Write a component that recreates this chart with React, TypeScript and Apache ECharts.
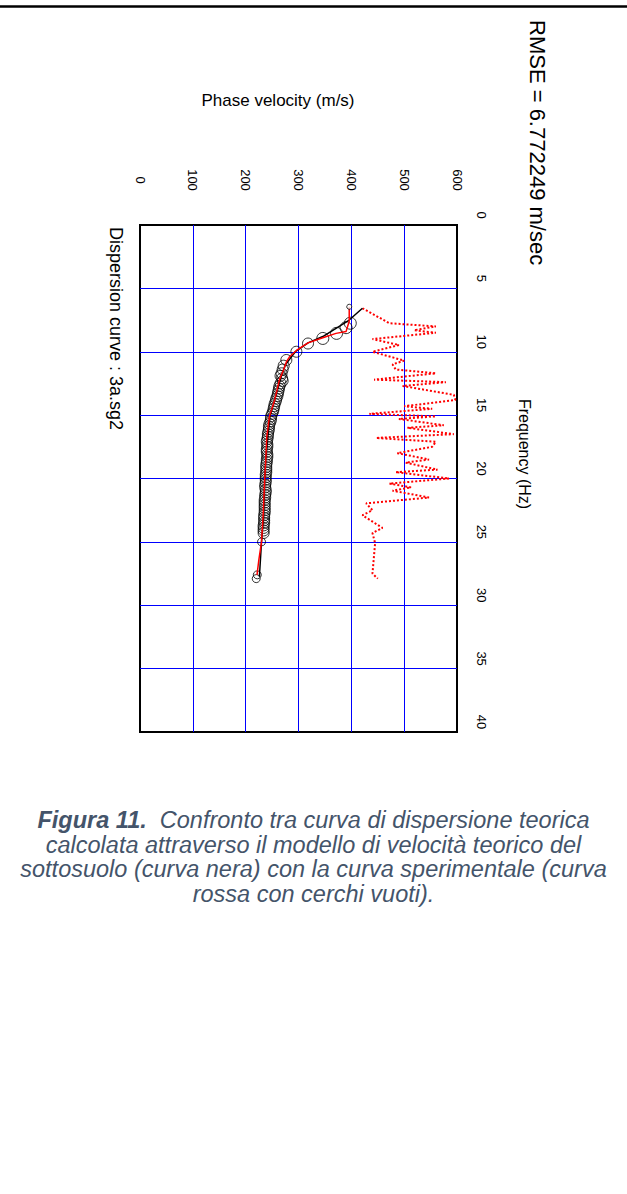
import React, { useEffect, useRef } from "react";
import * as echarts from "echarts";

// Theoretical dispersion curve (frequency Hz, phase velocity m/s)
const theoFreq = [6.57, 7.5, 8.15, 8.8, 9.3, 10.0, 10.6, 11.05, 12.0, 13.8, 15.1, 16.7, 18.5, 20.1, 23.0, 25.0, 27.75];
const theoVel = [421, 396, 371, 346, 318, 294, 283, 275, 267, 255, 246, 242, 238, 236, 234, 230, 226];

// Experimental curve (red solid line)
const expFreq = [6.45, 7.6, 8.4, 8.55, 8.9, 9.3, 9.9, 10.4, 10.8, 11.4, 12.2, 13.8, 15.1, 16.7, 18.5, 20.1, 23.0, 25.0, 26.4, 27.6];
const expVel = [396, 396, 390, 371, 346, 318, 296, 283, 277, 272, 264, 255, 245, 240, 238, 236, 233, 230, 225, 221.5];

// Experimental picks (open circles)
const pickFreq = [
  7.75, 8.1, 8.55, 8.95, 9.35, 10.0, 10.65, 11.1, 11.4, 11.7, 11.9, 12.1, 12.3, 12.5, 12.7, 12.9,
  13.1, 13.3, 13.5, 13.7, 13.9, 14.1, 14.3, 14.5, 14.7, 14.9, 15.1, 15.3, 15.5, 15.7, 15.9, 16.1,
  16.3, 16.5, 16.7, 16.9, 17.1, 17.3, 17.5, 17.7, 17.9, 18.1, 18.3, 18.5, 18.7, 18.9, 19.1, 19.3,
  19.5, 19.7, 19.9, 20.1, 20.3, 20.5, 20.7, 20.9, 21.1, 21.3, 21.5, 21.7, 21.9, 22.1, 22.3, 22.5,
  22.7, 22.9, 23.1, 23.3, 23.5, 23.7, 23.9, 24.1, 24.3, 25.0, 27.6, 27.9,
];
const pickVel = [
  398, 390, 372, 346, 318, 296, 277, 272, 270, 268, 266, 269, 270, 266, 264, 263,
  262, 261, 260, 258, 257, 255, 254, 253, 252, 250, 248, 248, 247, 245, 244, 244,
  243, 242, 242, 241, 240, 241, 241, 240, 240, 241, 241, 240, 240, 239, 239, 239,
  239, 238, 238, 238, 238, 237, 237, 238, 238, 237, 237, 236, 236, 236, 236, 236,
  236, 235, 235, 235, 235, 234, 234, 234, 234, 230, 222, 220,
];

// Red dotted curve
const dotFreq = [6.57, 7.75, 8.0, 8.3, 8.5, 9.0, 9.47, 10.0, 10.7, 11.0, 11.4, 11.7, 12.2, 12.4, 12.7, 13.4, 13.8, 14.3, 14.5, 14.9, 15.1, 15.3, 15.8, 16.0, 16.5, 16.8, 17.1, 17.5, 18.0, 18.5, 18.75, 19.3, 19.5, 20.0, 20.4, 20.7, 20.96, 21.5, 21.96, 22.5, 22.9, 23.9, 24.3, 25.1, 27.5, 27.9];
const dotVel = [421, 472, 560, 519, 560, 440, 490, 440, 500, 478, 484, 560, 443, 579, 497, 594, 597, 500, 553, 434, 560, 490, 575, 506, 594, 447, 560, 553, 487, 547, 503, 563, 484, 585, 472, 513, 478, 547, 428, 440, 421, 459, 440, 445, 440, 450];

// Axis tick definitions
const velMin = 0;
const velMax = 600;
const velStep = 100;
const freqMin = 0;
const freqMax = 40;
const freqStep = 5;

const captionLines = [
  "{b|Figura 11.}  Confronto tra curva di dispersione teorica",
  "calcolata attraverso il modello di velocità teorico del",
  "sottosuolo (curva nera) con la curva sperimentale (curva",
  "rossa con cerchi vuoti).",
];

const pair = (fs: number[], vs: number[]) => fs.map((f, i) => [vs[i], f]);

const FONT = "'Liberation Sans', Arial, sans-serif";

export default function App() {
  const ref = useRef<HTMLDivElement>(null);

  useEffect(() => {
    if (!ref.current) return;
    const chart = echarts.init(ref.current, undefined, { renderer: "svg" });

    const captionY = [820, 845, 869, 894];

    chart.setOption({
      animation: false,
      backgroundColor: "#ffffff",
      textStyle: { fontFamily: FONT },
      grid: {
        left: 140,
        top: 225,
        width: 317,
        height: 507,
        show: true,
        borderColor: "#000",
        borderWidth: 2,
        backgroundColor: "transparent",
      },
      xAxis: {
        type: "value",
        position: "top",
        min: velMin,
        max: velMax,
        interval: velStep,
        axisLine: { show: false },
        axisTick: { show: false },
        splitLine: {
          show: true,
          showMinLine: false,
          showMaxLine: false,
          lineStyle: { color: "#0000ff", width: 1 },
        },
        axisLabel: {
          rotate: -90,
          align: "center",
          verticalAlign: "middle",
          margin: 45,
          fontSize: 13,
          color: "#000",
          fontFamily: FONT,
        },
      },
      yAxis: {
        type: "value",
        position: "right",
        inverse: true,
        min: freqMin,
        max: freqMax,
        interval: freqStep,
        axisLine: { show: false },
        axisTick: { show: false },
        splitLine: {
          show: true,
          showMinLine: false,
          showMaxLine: false,
          lineStyle: { color: "#0000ff", width: 1 },
        },
        axisLabel: {
          rotate: -90,
          align: "center",
          verticalAlign: "middle",
          margin: 24,
          padding: [0, 20, 0, 0],
          fontSize: 13,
          color: "#000",
          fontFamily: FONT,
        },
      },
      series: [
        {
          type: "line",
          data: pair(dotFreq, dotVel),
          symbol: "none",
          z: 2,
          lineStyle: { color: "#ff0000", width: 2, type: [2, 2] },
        },
        {
          type: "scatter",
          data: pair(pickFreq, pickVel),
          symbol: "circle",
          symbolSize: (val: number[]) => (val[1] < 9.2 ? 12 : val[1] > 24.5 ? 8 : 11),
          z: 3,
          itemStyle: { color: "transparent", borderColor: "#000", borderWidth: 1 },
        },
        {
          type: "line",
          data: pair(theoFreq, theoVel),
          symbol: "none",
          z: 4,
          lineStyle: { color: "#000", width: 1.5 },
        },
        {
          type: "line",
          data: pair(expFreq, expVel),
          symbol: "none",
          z: 5,
          lineStyle: { color: "#ff0000", width: 1.5 },
        },
        {
          type: "scatter",
          data: [[expVel[0], expFreq[0]]],
          symbol: "circle",
          symbolSize: 5,
          z: 6,
          itemStyle: { color: "#fff", borderColor: "#000", borderWidth: 1 },
        },
      ],
      graphic: [
        {
          type: "line",
          shape: { x1: 0, y1: 6.5, x2: 627, y2: 6.5 },
          style: { stroke: "#000", lineWidth: 2.5 },
        },
        {
          type: "text",
          x: 537,
          y: 20,
          rotation: -Math.PI / 2,
          style: {
            text: "RMSE = 6.772249 m/sec",
            fontSize: 22,
            fontFamily: FONT,
            fill: "#000",
            align: "left",
            verticalAlign: "middle",
          },
        },
        {
          type: "text",
          x: 278,
          y: 100,
          style: {
            text: "Phase velocity (m/s)",
            fontSize: 17,
            fontFamily: FONT,
            fill: "#000",
            align: "center",
            verticalAlign: "middle",
          },
        },
        {
          type: "text",
          x: 524,
          y: 454,
          rotation: -Math.PI / 2,
          style: {
            text: "Frequency (Hz)",
            fontSize: 16,
            fontFamily: FONT,
            fill: "#000",
            align: "center",
            verticalAlign: "middle",
          },
        },
        {
          type: "text",
          x: 116,
          y: 227,
          rotation: -Math.PI / 2,
          style: {
            text: "Dispersion curve : 3a.sg2",
            fontSize: 18,
            fontFamily: FONT,
            fill: "#000",
            align: "left",
            verticalAlign: "middle",
          },
        },
        ...captionLines.map((line, i) => ({
          type: "text",
          x: 313.5,
          y: captionY[i],
          style: {
            text: line,
            fontSize: 23.5,
            fontStyle: "italic",
            fontFamily: FONT,
            fill: "#44546a",
            align: "center",
            verticalAlign: "middle",
            rich: {
              b: {
                fontSize: 23.5,
                fontStyle: "italic",
                fontWeight: "bold",
                fontFamily: FONT,
                fill: "#44546a",
              },
            },
          },
        })),
      ],
    });

    return () => chart.dispose();
  }, []);

  return (
    <div
      ref={ref}
      style={{ position: "fixed", left: 0, top: 0, width: 627, height: 1194, background: "#fff" }}
    />
  );
}
